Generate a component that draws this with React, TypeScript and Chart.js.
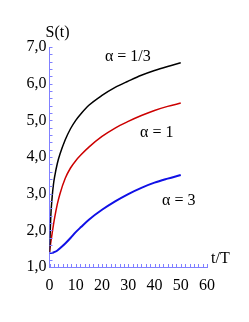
import React, { useEffect, useRef } from "react";
import { Chart, registerables } from "chart.js";

Chart.register(...registerables);

const tValues = [0, 0.25, 0.5, 1, 1.5, 2, 3, 4, 6, 8, 10, 12, 15, 20, 25, 30, 35, 40, 45, 50];
const sAlphaThird = [1.41, 1.9, 2.4, 2.9, 3.25, 3.48, 3.83, 4.08, 4.47, 4.77, 5.0, 5.18, 5.41, 5.68, 5.9, 6.07, 6.23, 6.36, 6.47, 6.57];
const sAlphaOne = [1.41, 1.55, 1.68, 1.92, 2.15, 2.36, 2.72, 3.0, 3.42, 3.7, 3.9, 4.06, 4.27, 4.56, 4.79, 4.97, 5.13, 5.27, 5.38, 5.47];
const sAlphaThree = [1.38, 1.38, 1.381, 1.385, 1.395, 1.41, 1.45, 1.51, 1.64, 1.79, 1.95, 2.09, 2.29, 2.56, 2.79, 2.99, 3.16, 3.3, 3.41, 3.51];

const xTickValues = [0, 10, 20, 30, 40, 50, 60];
const yTickValues = [1, 2, 3, 4, 5, 6, 7];

const annotations = [
  { t: 21.1, s: 6.61, text: "α = 1/3" },
  { t: 34.5, s: 4.54, text: "α = 1" },
  { t: 42.9, s: 2.68, text: "α = 3" },
];

const FONT = "'Liberation Serif', 'DejaVu Serif', serif";
const AXIS_COLOR = "#8080ff";

const overlayPlugin = {
  id: "overlay",
  afterDraw(chart: any) {
    const ctx = chart.ctx;
    const xs = chart.scales.x;
    const ys = chart.scales.y;
    const area = chart.chartArea;
    ctx.save();
    ctx.strokeStyle = AXIS_COLOR;
    ctx.lineWidth = 1;
    ctx.beginPath();
    for (let i = 0; i <= 30; i++) {
      const v = 1 + i * 0.2;
      const py = Math.round(ys.getPixelForValue(v)) + 0.5;
      ctx.moveTo(area.left, py);
      ctx.lineTo(area.left + 3, py);
    }
    for (let i = 0; i <= 36; i++) {
      const v = (i * 10) / 6;
      const px = Math.round(xs.getPixelForValue(v)) + 0.5;
      ctx.moveTo(px, area.bottom);
      ctx.lineTo(px, area.bottom - 3);
    }
    ctx.stroke();

    ctx.fillStyle = "#000";
    ctx.font = `16px ${FONT}`;
    ctx.textBaseline = "alphabetic";
    ctx.textAlign = "center";
    ctx.fillText("S(t)", area.left + 8, area.top - 10);
    ctx.textAlign = "left";
    ctx.fillText("t/T", area.right + 4, area.bottom - 4);

    for (const a of annotations) {
      ctx.fillText(a.text, xs.getPixelForValue(a.t), ys.getPixelForValue(a.s));
    }
    ctx.restore();
  },
};

export default function App() {
  const canvasRef = useRef<HTMLCanvasElement | null>(null);

  useEffect(() => {
    document.body.style.margin = "0";
    const canvas = canvasRef.current;
    if (!canvas) return;
    const mk = (ys: number[]) => tValues.map((t, i) => ({ x: t, y: ys[i] }));
    const chart = new Chart(canvas, {
      type: "line",
      data: {
        datasets: [
          { data: mk(sAlphaThird), borderColor: "#000000", borderWidth: 1.5 },
          { data: mk(sAlphaOne), borderColor: "#cc0000", borderWidth: 1.5 },
          { data: mk(sAlphaThree), borderColor: "#1010e6", borderWidth: 2 },
        ],
      },
      options: {
        animation: false,
        responsive: false,
        maintainAspectRatio: false,
        layout: { padding: { top: 47, right: 42, left: 0, bottom: 0 } },
        elements: {
          point: { radius: 0 },
          line: { cubicInterpolationMode: "monotone", fill: false },
        },
        plugins: {
          legend: { display: false },
          tooltip: { enabled: false },
        },
        scales: {
          x: {
            type: "linear",
            min: 0,
            max: 60,
            afterFit(scale: any) {
              scale.height = 55;
            },
            afterBuildTicks(scale: any) {
              scale.ticks = xTickValues.map((v) => ({ value: v }));
            },
            grid: { display: false, drawTicks: false },
            border: { display: true, color: AXIS_COLOR, width: 1 },
            ticks: {
              autoSkip: false,
              maxRotation: 0,
              padding: 9,
              color: "#000",
              font: { family: FONT, size: 16 },
              callback: (v: any) => String(v),
            },
          },
          y: {
            type: "linear",
            min: 1,
            max: 7,
            afterFit(scale: any) {
              scale.width = 49.5;
            },
            afterBuildTicks(scale: any) {
              scale.ticks = yTickValues.map((v) => ({ value: v }));
            },
            grid: { display: false, drawTicks: false },
            border: { display: true, color: AXIS_COLOR, width: 1 },
            ticks: {
              autoSkip: false,
              padding: 3,
              color: "#000",
              font: { family: FONT, size: 16 },
              callback: (v: any) => Number(v).toFixed(1).replace(".", ","),
            },
          },
        },
      },
      plugins: [overlayPlugin],
    });
    return () => chart.destroy();
  }, []);

  return (
    <div style={{ width: 249, height: 322 }}>
      <canvas ref={canvasRef} width={249} height={322} style={{ display: "block" }} />
    </div>
  );
}
